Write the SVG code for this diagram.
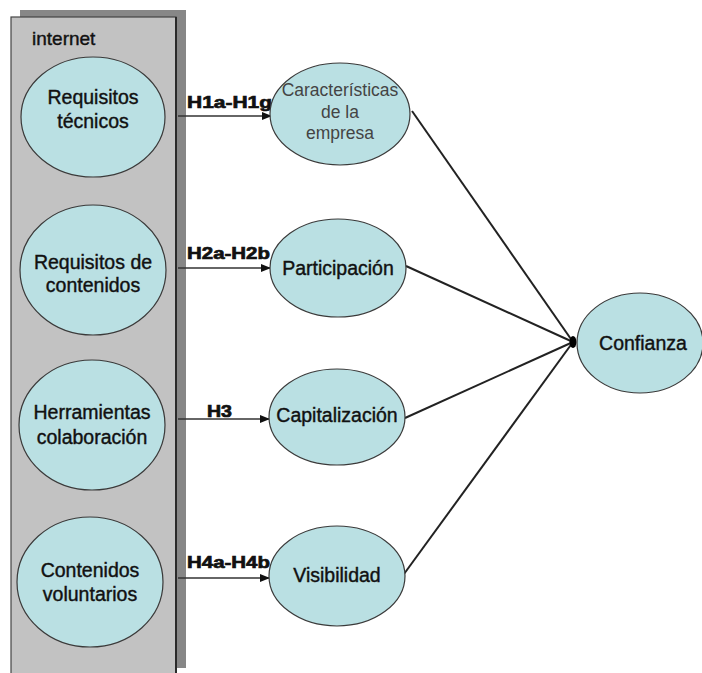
<svg xmlns="http://www.w3.org/2000/svg" width="702" height="673" viewBox="0 0 702 673">
  <defs>
    <style>
      .node { fill: #bae0e3; stroke: #3a3a3a; stroke-width: 1.2; }
      .lbl { font-family: "Liberation Sans", Arial, sans-serif; font-size: 19.5px; fill: #111; stroke: #111; stroke-width: 0.4; text-anchor: middle; }
      .thin { font-size: 17.5px; fill: #444; stroke: none; }
      .hyp { font-family: "Liberation Sans", Arial, sans-serif; font-size: 17px; font-weight: bold; fill: #111; stroke: #111; stroke-width: 0.7; }
      .conn { stroke: #222; stroke-width: 2; fill: none; }
      .arrow { stroke: #333; stroke-width: 1.4; fill: none; marker-end: url(#head); }
    </style>
    <marker id="head" markerWidth="10" markerHeight="8" refX="9" refY="4" orient="auto" markerUnits="userSpaceOnUse">
      <path d="M0,0 L10,4 L0,8 Z" fill="#111"/>
    </marker>
  </defs>

  <rect width="702" height="673" fill="#ffffff"/>

  <!-- internet panel with drop shadow -->
  <g id="internet">
    <rect x="20" y="10" width="166" height="658" fill="#878787"/>
    <rect x="11" y="17" width="165" height="660" fill="#c2c2c2" stroke="#444" stroke-width="1.2"/>
    <line x1="176" y1="17" x2="176" y2="673" stroke="#2a2a2a" stroke-width="2"/>
    <text x="32" y="45" font-family="Liberation Sans, Arial, sans-serif" font-size="19px" fill="#111" stroke="#111" stroke-width="0.4">internet</text>
  </g>

  <!-- connectors -->
  <g id="connectors">
    <line class="arrow" x1="178" y1="116" x2="271" y2="116"/>
    <line class="arrow" x1="178" y1="268" x2="270" y2="268"/>
    <line class="arrow" x1="178" y1="419" x2="269" y2="419"/>
    <line class="arrow" x1="178" y1="578" x2="269" y2="578"/>
    <line class="conn" x1="412" y1="111" x2="573" y2="342"/>
    <line class="conn" x1="406" y1="266" x2="573" y2="342"/>
    <line class="conn" x1="405" y1="418" x2="573" y2="342"/>
    <line class="conn" x1="404" y1="574" x2="573" y2="342"/>
    <ellipse cx="573" cy="342" rx="3.5" ry="6" fill="#000"/>
    <text class="hyp" x="187" y="108" textLength="85" lengthAdjust="spacingAndGlyphs">H1a-H1g</text>
    <text class="hyp" x="187" y="259" textLength="83" lengthAdjust="spacingAndGlyphs">H2a-H2b</text>
    <text class="hyp" x="207" y="417" textLength="25" lengthAdjust="spacingAndGlyphs">H3</text>
    <text class="hyp" x="187" y="568" textLength="83" lengthAdjust="spacingAndGlyphs">H4a-H4b</text>
  </g>

  <!-- source nodes inside the panel -->
  <g id="requisitos-tecnicos">
    <ellipse class="node" cx="93" cy="117" rx="72" ry="60"/>
    <text class="lbl" x="93" y="104">Requisitos</text>
    <text class="lbl" x="93" y="128">técnicos</text>
  </g>
  <g id="requisitos-contenidos">
    <ellipse class="node" cx="93" cy="270" rx="73" ry="65"/>
    <text class="lbl" x="93" y="269">Requisitos de</text>
    <text class="lbl" x="93" y="292">contenidos</text>
  </g>
  <g id="herramientas-colaboracion">
    <ellipse class="node" cx="92" cy="425" rx="73" ry="65"/>
    <text class="lbl" x="92" y="419">Herramientas</text>
    <text class="lbl" x="92" y="444">colaboración</text>
  </g>
  <g id="contenidos-voluntarios">
    <ellipse class="node" cx="90" cy="582" rx="73" ry="65"/>
    <text class="lbl" x="90" y="577">Contenidos</text>
    <text class="lbl" x="90" y="601">voluntarios</text>
  </g>

  <!-- mediating nodes -->
  <g id="caracteristicas">
    <ellipse class="node" cx="340" cy="114" rx="70" ry="51"/>
    <text class="lbl thin" x="340" y="96">Características</text>
    <text class="lbl thin" x="340" y="118">de la</text>
    <text class="lbl thin" x="340" y="139">empresa</text>
  </g>
  <g id="participacion">
    <ellipse class="node" cx="338" cy="268" rx="68" ry="49"/>
    <text class="lbl" x="338" y="275">Participación</text>
  </g>
  <g id="capitalizacion">
    <ellipse class="node" cx="337" cy="417" rx="68" ry="48"/>
    <text class="lbl" x="337" y="422">Capitalización</text>
  </g>
  <g id="visibilidad">
    <ellipse class="node" cx="337" cy="576" rx="68" ry="50"/>
    <text class="lbl" x="337" y="582">Visibilidad</text>
  </g>

  <!-- outcome node -->
  <g id="confianza">
    <ellipse class="node" cx="640" cy="343" rx="63" ry="50"/>
    <text class="lbl" x="643" y="350">Confianza</text>
  </g>
</svg>
